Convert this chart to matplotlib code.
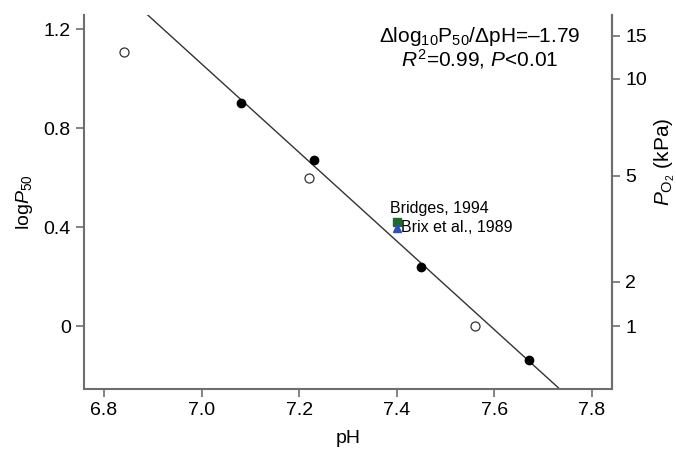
import matplotlib.pyplot as plt
import numpy as np

plt.rcParams['font.family'] = ['Liberation Sans', 'DejaVu Sans']
plt.rcParams['mathtext.fontset'] = 'custom'
plt.rcParams['mathtext.rm'] = 'Liberation Sans'
plt.rcParams['mathtext.it'] = 'Liberation Sans:italic'

# filled points (used in the fit)
ph_fit = [7.08, 7.23, 7.45, 7.67]
logp_fit = [0.900, 0.671, 0.240, -0.137]
# open points
ph_open = [6.84, 7.22, 7.56]
logp_open = [1.108, 0.599, 0.0]
# literature values
bridges = (7.40, 0.421)
brix = (7.40, 0.396)

slope = -1.79
intercept = 13.589

# right axis ticks as drawn in the figure
right_pos = [1.172, 1.0, 0.607, 0.178, 0.0]
right_lab = ['15', '10', '5', '2', '1']

xticks = [6.8, 7.0, 7.2, 7.4, 7.6, 7.8]
yticks = [0, 0.4, 0.8, 1.2]

gray = '#6e6e6e'
fs = 14

fig = plt.figure(figsize=(6.76, 4.51), dpi=100)
ax = fig.add_axes([0.1243, 0.1375, 0.7810, 0.8292])

xl = np.array([6.7, 7.9])
ax.plot(xl, slope * xl + intercept, color='#333333', lw=1.0, zorder=2)
ax.plot(ph_fit, logp_fit, 'o', color='black', ms=6, zorder=3)
ax.plot(ph_open, logp_open, 'o', mfc='white', mec='#333333', mew=0.9, ms=6.5, zorder=3)
ax.plot(*bridges, 's', color='#1f6b2e', ms=5.5, zorder=3)
ax.plot(*brix, '^', color='#2e4fb5', ms=6, zorder=4)
ax.text(7.386, 0.473, 'Bridges, 1994', fontsize=11.5, va='center', ha='left')
ax.text(7.409, 0.397, 'Brix et al., 1989', fontsize=11.5, va='center', ha='left')

ax.text(7.57, 1.17, r'$\Delta$log$_{10}$P$_{50}$/$\Delta$pH=–1.79',
        fontsize=15, ha='center', va='center')
ax.text(7.57, 1.08, r'$R^2$=0.99, $P$<0.01', fontsize=15, ha='center', va='center')

ax.set_xlim(6.759, 7.841)
ax.set_ylim(-0.2545, 1.2566)
ax.set_xticks(xticks)
ax.set_xticklabels(['%.1f' % v for v in xticks])
ax.set_yticks(yticks)
ax.set_yticklabels(['0', '0.4', '0.8', '1.2'])
ax.set_xlabel('pH', fontsize=fs, labelpad=8)
ax.set_ylabel(r'log$P_{50}$', fontsize=fs, labelpad=6)

ax2 = ax.twinx()
ax2.set_ylim(ax.get_ylim())
ax2.set_yticks(right_pos)
ax2.set_yticklabels(right_lab)
fig.text(665 / 676, 1 - 162 / 451, r'$P_{\mathrm{O_2}}$ (kPa)', fontsize=15,
         rotation=90, ha='center', va='center')

for a in (ax, ax2):
    a.spines['top'].set_visible(False)
    for s in ('left', 'right', 'bottom'):
        a.spines[s].set_color(gray)
        a.spines[s].set_linewidth(1.5)
    a.tick_params(colors=gray, labelcolor='black', labelsize=fs, length=6, width=1.2)
ax2.spines['left'].set_visible(False)
ax2.spines['bottom'].set_visible(False)

fig.savefig('out.png', dpi=100)
plt.close()
